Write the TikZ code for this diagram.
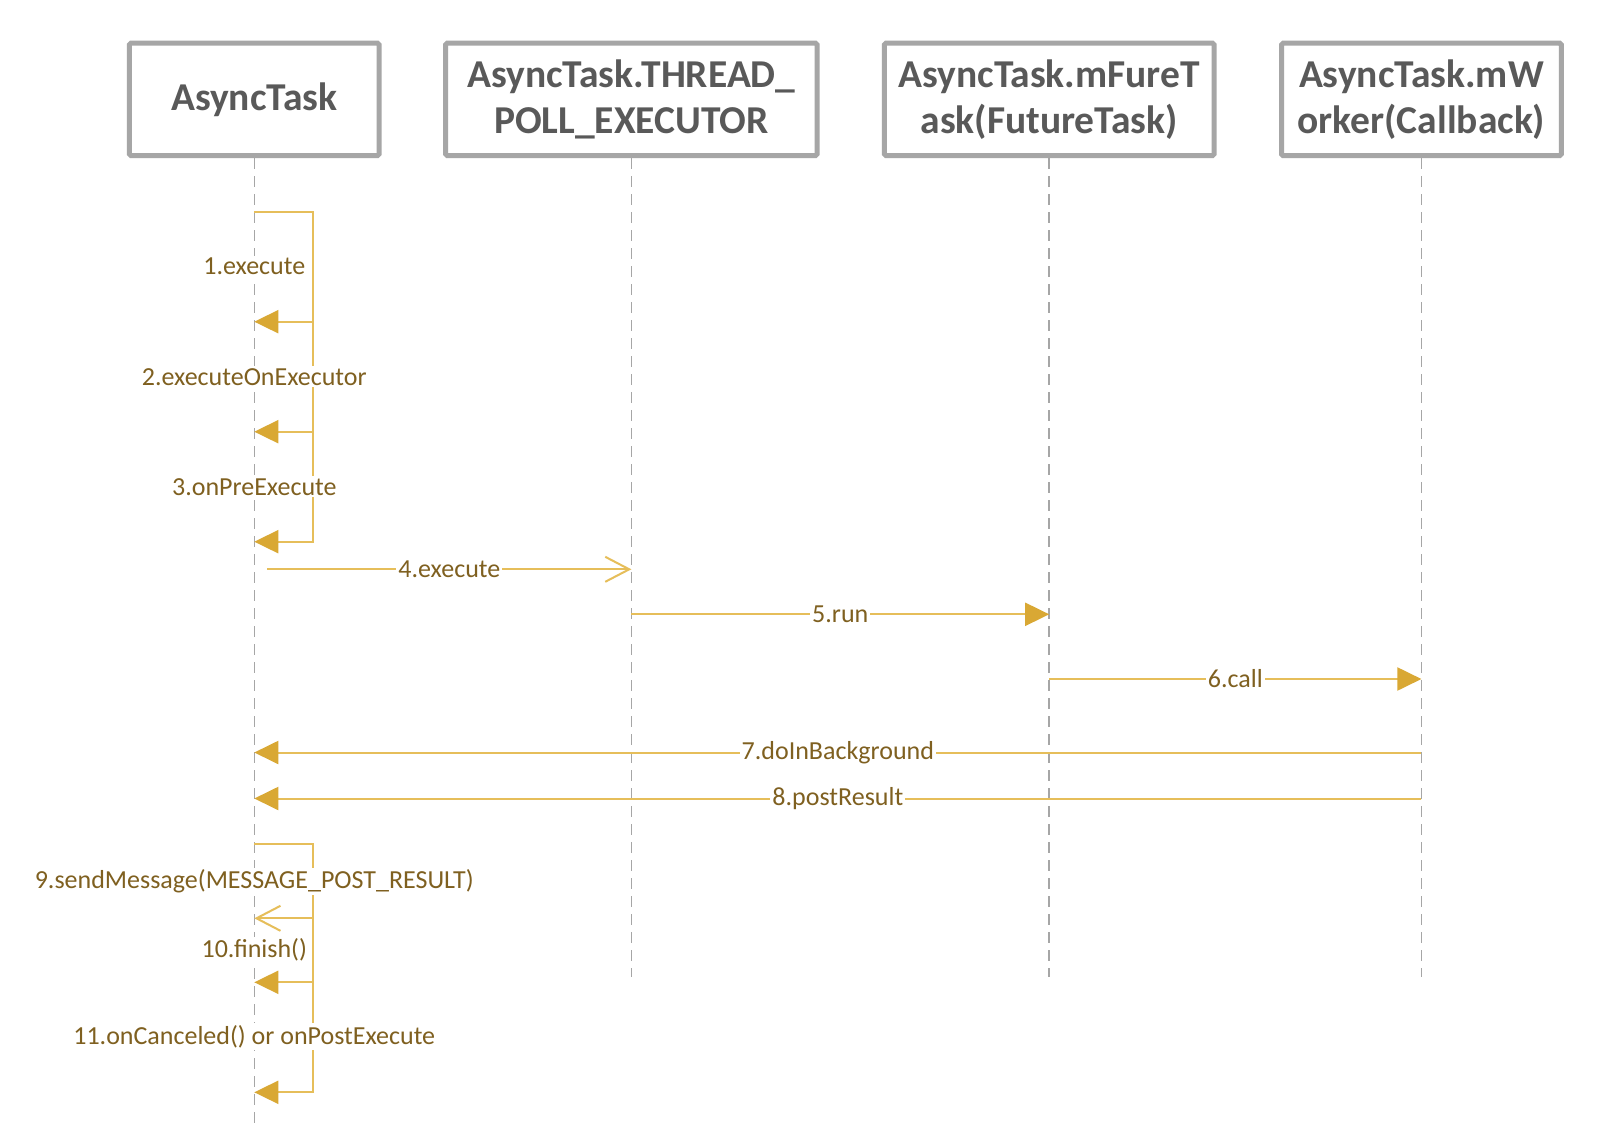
\documentclass[tikz,border=0pt]{standalone}
\usepackage{fontspec}
\setmainfont{Carlito}
\usetikzlibrary{arrows.meta}
\definecolor{boxgray}{HTML}{A6A6A6}
\definecolor{titlegray}{HTML}{595959}
\definecolor{linegold}{HTML}{E6BE5A}
\definecolor{tipgold}{HTML}{D9A834}
\definecolor{textgold}{HTML}{7F6020}
\begin{document}
\begin{tikzpicture}[x=1pt,y=-1pt,
  actor/.style={draw=boxgray, line width=5pt, rounded corners=1.5pt, fill=white,
    minimum height=112.3pt, text=titlegray, font=\fontsize{39.5}{46}\selectfont\bfseries,
    align=center, inner sep=0pt},
  lifeline/.style={draw=boxgray, line width=1.6pt, dash pattern=on 11pt off 7pt},
  msg/.style={draw=linegold, line width=2pt},
  solidtip/.style={-{Triangle[length=24pt,width=23pt,color=tipgold,fill=tipgold]}},
  opentip/.style={-{Straight Barb[length=24pt,width=25pt]}},
  lbl/.style={fill=white, text=textgold, font=\fontsize{26}{30}\selectfont, inner sep=2pt}
]
\useasboundingbox (0,0) rectangle (1600,1134);
\fill[white] (0,0) rectangle (1600,1134);

% actors
\node[actor, minimum width=249.7pt] (A) at (254.3,99.4) {AsyncTask};
\node[actor, minimum width=371.5pt] (B) at (631.4,99.4) {AsyncTask.THREAD\_\\POLL\_EXECUTOR};
\node[actor, minimum width=329.7pt] (C) at (1049.2,99.4) {AsyncTask.mFureT\\ask(FutureTask)};
\node[actor, minimum width=279.7pt] (D) at (1421.4,99.4) {AsyncTask.mW\\orker(Callback)};

% lifeline ends
\coordinate (Aend) at (254.3,1127);
\coordinate (Bend) at (631.4,976.5);
\coordinate (Cend) at (1049.2,976.5);
\coordinate (Dend) at (1421.4,976.5);
\draw[lifeline] (A.south) -- (Aend);
\draw[lifeline] (B.south) -- (Bend);
\draw[lifeline] (C.south) -- (Cend);
\draw[lifeline] (D.south) -- (Dend);

% self-message points on AsyncTask lifeline
\coordinate (s0) at (254.3,211.7);
\coordinate (s1) at (254.3,321.7);
\coordinate (s2) at (254.3,431.7);
\coordinate (s3) at (254.3,541.7);
\coordinate (c1) at (313.3,321.7);
\coordinate (c2) at (313.3,431.7);
\coordinate (s9) at (254.3,844.3);
\coordinate (s9e) at (254.3,918.3);
\coordinate (s10) at (254.3,982.3);
\coordinate (s11) at (254.3,1092.3);
\coordinate (c9) at (313.3,918.3);
\coordinate (c10) at (313.3,982.3);

\draw[msg, solidtip] (s0) -- ++(59,0) |- (s1);
\draw[msg, solidtip] (c1) |- (s2);
\draw[msg, solidtip] (c2) |- (s3);

% messages between lifelines
\coordinate (m4a) at (267.3,569.3);
\coordinate (m4b) at (631.4,569.3);
\coordinate (m5a) at (631.4,614.3);
\coordinate (m5b) at (1049.2,614.3);
\coordinate (m6a) at (1049.2,679);
\coordinate (m6b) at (1421.4,679);
\coordinate (m7a) at (1421.4,752.5);
\coordinate (m7b) at (254.3,752.5);
\coordinate (m8a) at (1421.4,798.5);
\coordinate (m8b) at (254.3,798.5);

\draw[msg, opentip] (m4a) -- (m4b) node[lbl, midway] (l4) {4.execute};
\draw[msg, solidtip] (m5a) -- (m5b) node[lbl, midway] (l5) {5.run};
\draw[msg, solidtip] (m6a) -- (m6b) node[lbl, midway] (l6) {6.call};
\draw[msg, solidtip] (m7a) -- (m7b) node[lbl, midway] (l7) {7.doInBackground};
\draw[msg, solidtip] (m8a) -- (m8b) node[lbl, midway] (l8) {8.postResult};

\draw[msg, opentip] (s9) -- ++(59,0) |- (s9e);
\draw[msg, solidtip] (c9) |- (s10);
\draw[msg, solidtip] (c10) |- (s11);

% self-message labels
\node[lbl] (l1) at (254.3,266.7) {1.execute};
\node[lbl] (l2) at (254.3,376.7) {2.executeOnExecutor};
\node[lbl] (l3) at (254.3,486.7) {3.onPreExecute};
\node[lbl] (l9) at (254.3,881.7) {9.sendMessage(MESSAGE\_POST\_RESULT)};
\node[lbl] (l10) at (254.3,950) {10.finish()};
\node[lbl] (l11) at (254.3,1036.7) {11.onCanceled() or onPostExecute};
\end{tikzpicture}
\end{document}
